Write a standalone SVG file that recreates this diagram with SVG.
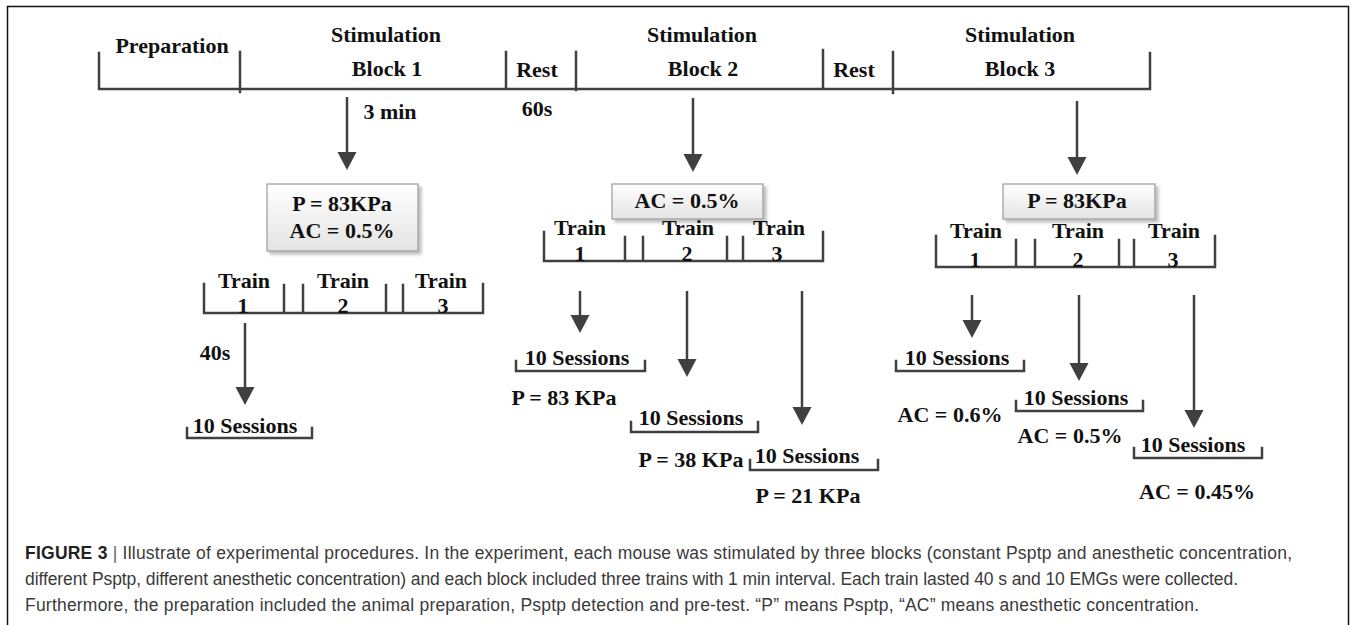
<svg xmlns="http://www.w3.org/2000/svg" width="1354" height="625" viewBox="0 0 1354 625">
<style>
.t{font-family:"Liberation Serif","Times New Roman",serif;font-weight:bold;font-size:22px;fill:#111;text-anchor:middle}
.ln{stroke:#404040;stroke-width:2.5;fill:none;stroke-linecap:square}
.ar{stroke:#404040;stroke-width:2.5;fill:none;marker-end:url(#ah)}
.box{fill:url(#g);stroke:#9a9a9a;stroke-width:1.2;filter:url(#sh)}
.cap{font-family:"Liberation Sans",Arial,sans-serif;font-size:17.5px;fill:#3a3a3a}
</style>
<defs>
<marker id="ah" viewBox="0 -10 18 20" refX="0" refY="0" markerWidth="18" markerHeight="20" markerUnits="userSpaceOnUse" orient="auto">
<path d="M0,-9.5 L18,0 L0,9.5 z" fill="#404040"/>
</marker>
<linearGradient id="g" x1="0" y1="0" x2="0" y2="1">
<stop offset="0" stop-color="#ffffff"/>
<stop offset="1" stop-color="#e4e4e4"/>
</linearGradient>
<filter id="sh" x="-10%" y="-10%" width="125%" height="130%">
<feDropShadow dx="3" dy="3" stdDeviation="1.5" flood-color="#000" flood-opacity="0.25"/>
</filter>
</defs>
<rect x="0" y="0" width="1354" height="625" fill="#fff"/>
<rect x="7.5" y="6.5" width="1341" height="700" fill="none" stroke="#111" stroke-width="1.5"/>

<g id="timeline">
<path class="ln" d="M99,89 H1150 M99,53 V89 M240,52 V92 M506,52 V89 M576,52 V90 M823,50 V89 M893,52 V93 M1150,53 V89"/>
<text class="t" x="172" y="53">Preparation</text>
<text class="t" x="386" y="42">Stimulation</text>
<text class="t" x="387" y="76">Block 1</text>
<text class="t" x="537" y="77">Rest</text>
<text class="t" x="702" y="42">Stimulation</text>
<text class="t" x="703" y="76">Block 2</text>
<text class="t" x="854" y="77">Rest</text>
<text class="t" x="1020" y="42">Stimulation</text>
<text class="t" x="1020" y="76">Block 3</text>
<text class="t" x="390" y="119">3 min</text>
<text class="t" x="537" y="116">60s</text>
</g>

<g id="block1">
<rect class="box" x="267" y="184" width="151" height="67"/>
<text class="t" x="342" y="211">P = 83KPa</text>
<text class="t" x="342" y="238">AC = 0.5%</text>
<path class="ln" d="M204,313 H483 M204,284 V313 M284,285 V313 M303,285 V313 M386,285 V313 M403,285 V313 M483,284 V313"/>
<text class="t" x="244" y="288">Train</text>
<text class="t" x="343" y="288">Train</text>
<text class="t" x="441" y="288">Train</text>
<text class="t" x="243" y="313">1</text>
<text class="t" x="343" y="313">2</text>
<text class="t" x="443" y="313">3</text>
<text class="t" x="215" y="360">40s</text>
<path class="ln" d="M187,438 H312 M187,428 V438 M312,428 V438"/>
<text class="t" x="245" y="433">10 Sessions</text>
</g>

<g id="block2">
<rect class="box" x="612" y="184" width="151" height="35"/>
<text class="t" x="687" y="208">AC = 0.5%</text>
<path class="ln" d="M544,261 H823 M544,232 V261 M625,237 V261 M643,237 V261 M727,237 V261 M743,237 V261 M823,232 V261"/>
<text class="t" x="580" y="235">Train</text>
<text class="t" x="688" y="235">Train</text>
<text class="t" x="779" y="235">Train</text>
<text class="t" x="580" y="261">1</text>
<text class="t" x="687" y="261">2</text>
<text class="t" x="777" y="261">3</text>
<path class="ln" d="M516,371 H645 M516,361 V371 M645,361 V371"/>
<text class="t" x="577" y="365">10 Sessions</text>
<path class="ln" d="M631,432 H758 M631,422 V432 M758,422 V432"/>
<text class="t" x="691" y="425">10 Sessions</text>
<path class="ln" d="M750,470 H878 M750,460 V470 M878,460 V470"/>
<text class="t" x="807" y="463">10 Sessions</text>
<text class="t" x="564" y="405">P = 83 KPa</text>
<text class="t" x="691" y="467">P = 38 KPa</text>
<text class="t" x="808" y="503">P = 21 KPa</text>
</g>

<g id="block3">
<rect class="box" x="1003" y="184" width="152" height="35"/>
<text class="t" x="1077" y="208">P = 83KPa</text>
<path class="ln" d="M936,267 H1215 M936,236 V267 M1016,240 V267 M1035,240 V267 M1119,240 V267 M1134,240 V267 M1215,236 V267"/>
<text class="t" x="976" y="238">Train</text>
<text class="t" x="1078" y="238">Train</text>
<text class="t" x="1174" y="238">Train</text>
<text class="t" x="975" y="267">1</text>
<text class="t" x="1078" y="267">2</text>
<text class="t" x="1173" y="267">3</text>
<path class="ln" d="M896,371 H1024 M896,361 V371 M1024,361 V371"/>
<text class="t" x="957" y="365">10 Sessions</text>
<path class="ln" d="M1016,411 H1143 M1016,401 V411 M1143,401 V411"/>
<text class="t" x="1076" y="405">10 Sessions</text>
<path class="ln" d="M1134,458 H1262 M1134,448 V458 M1262,448 V458"/>
<text class="t" x="1193" y="452">10 Sessions</text>
<text class="t" x="950" y="422">AC = 0.6%</text>
<text class="t" x="1070" y="443">AC = 0.5%</text>
<text class="t" x="1197" y="499">AC = 0.45%</text>
</g>

<g id="connectors">
<line class="ar" x1="347" y1="97" x2="347" y2="152"/>
<line class="ar" x1="693" y1="98" x2="693" y2="154"/>
<line class="ar" x1="1077" y1="101" x2="1077" y2="157"/>
<line class="ar" x1="245" y1="323" x2="245" y2="387"/>
<line class="ar" x1="580" y1="291" x2="580" y2="315"/>
<line class="ar" x1="687" y1="291" x2="687" y2="359"/>
<line class="ar" x1="802" y1="291" x2="802" y2="407"/>
<line class="ar" x1="972" y1="295" x2="972" y2="320"/>
<line class="ar" x1="1079" y1="295" x2="1079" y2="363"/>
<line class="ar" x1="1194" y1="295" x2="1194" y2="410"/>
</g>

<g id="caption">
<text class="cap" x="25" y="559" textLength="1267" lengthAdjust="spacing"><tspan font-weight="bold" fill="#222">FIGURE 3</tspan><tspan fill="#666">  |  </tspan>Illustrate of experimental procedures. In the experiment, each mouse was stimulated by three blocks (constant Psptp and anesthetic concentration,</text>
<text class="cap" x="25" y="585" textLength="1213" lengthAdjust="spacing">different Psptp, different anesthetic concentration) and each block included three trains with 1 min interval. Each train lasted 40 s and 10 EMGs were collected.</text>
<text class="cap" x="25" y="611" textLength="1174" lengthAdjust="spacing">Furthermore, the preparation included the animal preparation, Psptp detection and pre-test. “P” means Psptp, “AC” means anesthetic concentration.</text>
</g>
</svg>
